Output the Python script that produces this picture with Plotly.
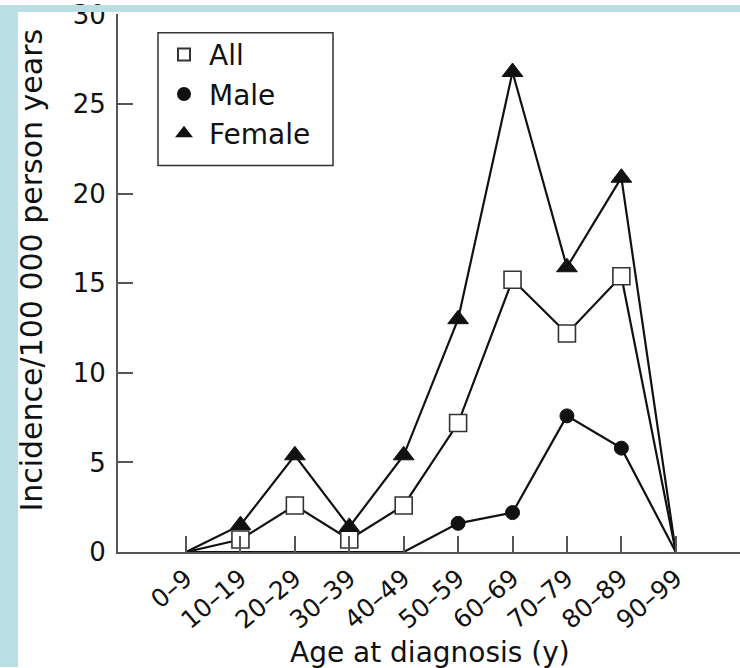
import plotly.graph_objects as go

ages = ["0–9", "10–19", "20–29", "30–39", "40–49", "50–59", "60–69", "70–79", "80–89", "90–99"]
all_vals = [0, 0.7, 2.6, 0.7, 2.6, 7.2, 15.2, 12.2, 15.4, 0]
male_vals = [0, 0, 0, 0, 0, 1.6, 2.2, 7.6, 5.8, 0]
female_vals = [0, 1.5, 5.4, 1.4, 5.4, 13.0, 26.8, 15.9, 20.9, 0]
y_ticks = [0, 5, 10, 15, 20, 25, 30]
x_title = "Age at diagnosis (y)"
y_title = "Incidence/100 000 person years"

W, H = 740, 668
L, R, T, B = 118, 0, 9, 116
pw, ph = W - L - R, H - T - B

def px_x(p):
    return (p - L) / pw

def px_y(p):
    return (H - B - p) / ph

FONT = "DejaVu Sans"
INK = "#111111"
AX = "#555555"
TEAL = "#B9DFE3"
fig = go.Figure()

series = [
    ("All", all_vals, dict(symbol="square", size=17, color="white", line=dict(color="#333", width=1.6))),
    ("Male", male_vals, dict(symbol="circle", size=14, color=INK, line=dict(color=INK, width=1))),
    ("Female", female_vals, dict(symbol="triangle-up", size=18, color=INK, line=dict(color=INK, width=1))),
]

for name, vals, mk in series:
    fig.add_trace(go.Scatter(x=ages, y=vals, mode="lines", line=dict(color=INK, width=2.2),
                             showlegend=False, hoverinfo="skip"))
for name, vals, mk in series:
    xs = [a for a, v in zip(ages, vals) if v > 0]
    ys = [v for v in vals if v > 0]
    fig.add_trace(go.Scatter(x=xs, y=ys, mode="markers", marker=mk, name=name))

fig.update_layout(
    width=W, height=H,
    margin=dict(l=L, r=R, t=T, b=B, pad=0),
    paper_bgcolor="white", plot_bgcolor="white",
    font=dict(family=FONT, size=24, color=INK),
    showlegend=True,
    legend=dict(x=px_x(159), y=px_y(25), xanchor="left", yanchor="top",
                borderwidth=0, bgcolor="rgba(0,0,0,0)",
                font=dict(size=28), itemsizing="constant", itemwidth=40,
                tracegroupgap=0),
    xaxis=dict(type="category", categoryorder="array", categoryarray=ages,
               range=[-1.25, 10.18], showline=True, linecolor=AX, linewidth=2,
               ticks="inside", ticklen=16, tickwidth=2, tickcolor=AX,
               tickangle=-40, tickfont=dict(size=25), showgrid=False, zeroline=False),
    yaxis=dict(range=[0, 30.04], tickvals=y_ticks, showline=True,
               linecolor=AX, linewidth=2, ticks="inside", ticklen=15, tickwidth=2,
               tickcolor=AX, tickfont=dict(size=26), showgrid=False, zeroline=False,
               ticklabelstandoff=5, ticklabeloverflow="allow"),
    annotations=[
        dict(text=x_title, xref="paper", yref="paper", x=px_x(430), y=px_y(653),
             xanchor="center", yanchor="middle", showarrow=False, font=dict(size=28)),
        dict(text=y_title, xref="paper", yref="paper", x=px_x(32), y=px_y(268),
             xanchor="center", yanchor="middle", showarrow=False, textangle=-90,
             font=dict(size=30)),
    ],
    shapes=[
        dict(type="rect", xref="paper", yref="paper", x0=px_x(158), x1=px_x(333), y0=px_y(162), y1=px_y(28),
             fillcolor="rgba(0,0,0,0)", line=dict(width=1.5, color="#333"), layer="above"),
        dict(type="rect", xref="paper", yref="paper", x0=px_x(0), x1=px_x(18), y0=px_y(H), y1=px_y(0),
             fillcolor=TEAL, line=dict(width=0), layer="above"),
        dict(type="rect", xref="paper", yref="paper", x0=px_x(0), x1=px_x(W), y0=px_y(7), y1=px_y(0),
             fillcolor=TEAL, line=dict(width=0), layer="above"),
    ],
)

fig.write_html("out.html", config={"displayModeBar": False},
               post_script="document.body.style.margin='0';document.body.style.overflow='hidden';")
